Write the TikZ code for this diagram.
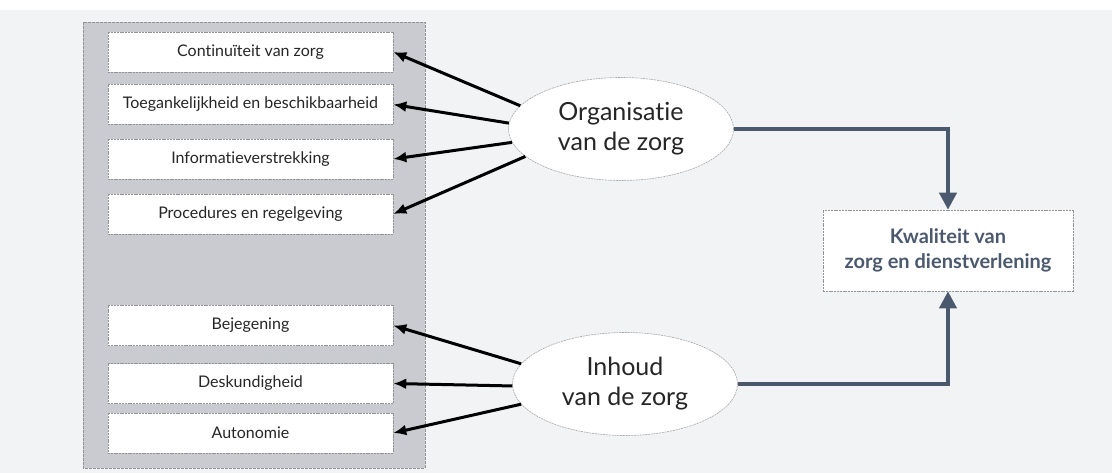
\documentclass[tikz,border=0pt]{standalone}
\usepackage{fontspec}
\setmainfont{Lato}[Ligatures=NoCommon]
\usetikzlibrary{arrows.meta,shapes.geometric}
\definecolor{pagegray}{RGB}{242,243,245}
\definecolor{panelgray}{RGB}{201,203,208}
\definecolor{slate}{RGB}{75,89,110}
\newcommand{\ArrTip}{Latex[length=13,width=11]}
\newcommand{\FlowTip}{Triangle[length=17,width=17]}
\tikzset{item/.style={draw=gray!85,dash pattern={on 2pt off .8pt},line width=.6,fill=white,inner sep=0,minimum width=285,minimum height=40,text=black!85,font=\fontsize{16}{18}\selectfont}}
\tikzset{topic/.style={ellipse,draw=gray!70,dash pattern={on 2pt off .8pt},line width=.6,fill=white,inner sep=0,minimum width=225,minimum height=103,align=center,text=black!85,font=\fontsize{25}{30}\selectfont}}
\tikzset{goal/.style={draw=gray!85,dash pattern={on 2pt off .8pt},line width=.6,fill=white,inner sep=0,minimum width=250,minimum height=81,align=center,text=slate,font=\bfseries\fontsize{20}{25}\selectfont}}
\tikzset{feed/.style={line width=3,-{\ArrTip}}}
\tikzset{flow/.style={slate,line width=4,-{\FlowTip}}}
\begin{document}
\begin{tikzpicture}[x=1pt,y=-1pt]
\fill[pagegray](0,0)rectangle(1112,473);\fill[white](0,0)rectangle(1112,10);
\useasboundingbox(0,0)rectangle(1112,473);
\draw[gray!85,dash pattern={on 3pt off 1pt},line width=.7,fill=panelgray](83,22)rectangle(425,468);
% aspecten links
\node[item](cont)at(250.5,52){Continuïteit van zorg};
\node[item](toeg)at(250.5,104.5){Toegankelijkheid en beschikbaarheid};
\node[item](info)at(250.5,159){Informatieverstrekking};
\node[item](proc)at(250.5,214){Procedures en regelgeving};
\node[item](bej)at(250.5,325.5){Bejegening};
\node[item](desk)at(250.5,383.5){Deskundigheid};
\node[item](auto)at(250.5,433){Autonomie};
% hoofdthema's
\node[topic](org)at(621,129){Organisatie\\van de zorg};
\node[topic](inh)at(625,384){Inhoud\\van de zorg};
\node[goal](kwal)at(948,250.5){Kwaliteit van\\zorg en dienstverlening};
\foreach \b/\a in {cont/167,toeg/177,info/187,proc/196}\draw[feed](org.\a)--(\b.east);
\foreach \b/\a in {bej/169,desk/181,auto/191}\draw[feed](inh.\a)--(\b.east);
\draw[flow](org.east)-|(kwal.north);\draw[flow](inh.east)-|(kwal.south);
\end{tikzpicture}
\end{document}
